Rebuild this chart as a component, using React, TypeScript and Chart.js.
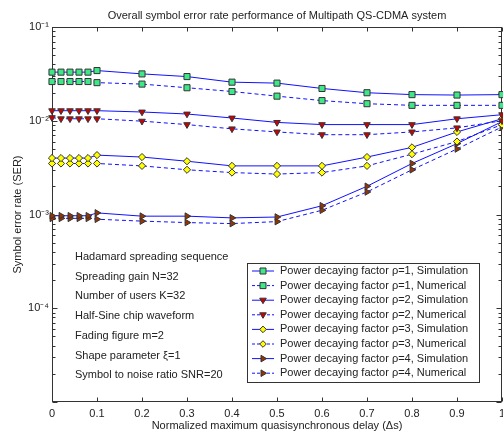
import React, { useEffect, useRef } from "react";
import { Chart, registerables } from "chart.js";

Chart.register(...registerables);

const titleText = "Overall symbol error rate performance of Multipath QS-CDMA system";
const xTitle = "Normalized maximum quasisynchronous delay (\u0394s)";
const yTitle = "Symbol error rate (SER)";

const xs = [0, 0.02, 0.04, 0.06, 0.08, 0.1, 0.2, 0.3, 0.4, 0.5, 0.6, 0.7, 0.8, 0.9, 1.0];

const sim1 = [0.033, 0.033, 0.033, 0.033, 0.033, 0.0343, 0.0316, 0.0296, 0.0258, 0.0252, 0.0221, 0.0199, 0.019, 0.0188, 0.019];
const num1 = [0.0262, 0.0262, 0.0262, 0.0262, 0.0262, 0.0255, 0.0246, 0.0225, 0.0205, 0.0183, 0.0164, 0.0152, 0.0146, 0.0146, 0.0146];
const sim2 = [0.0128, 0.0128, 0.0128, 0.0128, 0.0128, 0.0128, 0.0124, 0.0118, 0.0107, 0.0096, 0.0091, 0.0091, 0.0091, 0.0105, 0.0116];
const num2 = [0.0108, 0.0105, 0.0105, 0.0105, 0.0105, 0.0105, 0.0099, 0.0091, 0.0082, 0.0076, 0.0071, 0.0071, 0.0076, 0.0084, 0.01];
const sim3 = [0.004, 0.004, 0.004, 0.004, 0.004, 0.0043, 0.0041, 0.0037, 0.0033, 0.0033, 0.0033, 0.0041, 0.0052, 0.0076, 0.0105];
const num3 = [0.0035, 0.0035, 0.0035, 0.0035, 0.0035, 0.0035, 0.0033, 0.003, 0.0028, 0.0027, 0.0028, 0.0033, 0.0044, 0.006, 0.0091];
const sim4 = [0.00097, 0.00097, 0.00097, 0.00097, 0.00097, 0.00104, 0.00096, 0.00096, 0.00092, 0.00094, 0.00124, 0.002, 0.0035, 0.0057, 0.0098];
const num4 = [0.00091, 0.00091, 0.00091, 0.00091, 0.00091, 0.00089, 0.00085, 0.00082, 0.0008, 0.00084, 0.00111, 0.00174, 0.003, 0.005, 0.0086];

const seriesLabels = [
  "Power decaying factor \u03c1=1, Simulation",
  "Power decaying factor \u03c1=1, Numerical",
  "Power decaying factor \u03c1=2, Simulation",
  "Power decaying factor \u03c1=2, Numerical",
  "Power decaying factor \u03c1=3, Simulation",
  "Power decaying factor \u03c1=3, Numerical",
  "Power decaying factor \u03c1=4, Simulation",
  "Power decaying factor \u03c1=4, Numerical",
];

const xTickLabels = ["0", "0.1", "0.2", "0.3", "0.4", "0.5", "0.6", "0.7", "0.8", "0.9", "1"];
const yDecades = [1e-4, 1e-3, 1e-2, 1e-1];
const yTickLabels = ["10\u207b\u2074", "10\u207b\u00b3", "10\u207b\u00b2", "10\u207b\u00b9"];

const infoLines = [
  "Hadamard spreading sequence",
  "Spreading gain N=32",
  "Number of users K=32",
  "Half-Sine chip waveform",
  "Fading figure m=2",
  "Shape parameter \u03be=1",
  "Symbol to noise ratio SNR=20",
];

const FONT = "'Liberation Sans', Arial, sans-serif";
const TEXT = "#222";

type Marker = "square" | "tridown" | "diamond" | "triright";

function drawMarker(ctx: CanvasRenderingContext2D, m: Marker, x: number, y: number, fill: string) {
  ctx.beginPath();
  if (m === "square") {
    ctx.rect(x - 3, y - 3, 6, 6);
  } else if (m === "tridown") {
    ctx.moveTo(x - 3.3, y - 2);
    ctx.lineTo(x + 3.3, y - 2);
    ctx.lineTo(x, y + 3.5);
    ctx.closePath();
  } else if (m === "diamond") {
    ctx.moveTo(x, y - 3.3);
    ctx.lineTo(x + 3.3, y);
    ctx.lineTo(x, y + 3.3);
    ctx.lineTo(x - 3.3, y);
    ctx.closePath();
  } else {
    ctx.moveTo(x - 2, y - 3.3);
    ctx.lineTo(x + 3.5, y);
    ctx.lineTo(x - 2, y + 3.3);
    ctx.closePath();
  }
  ctx.fillStyle = fill;
  ctx.fill();
  ctx.strokeStyle = "#333";
  ctx.lineWidth = 1;
  ctx.stroke();
}

export default function App() {
  const ref = useRef<HTMLCanvasElement>(null);

  useEffect(() => {
    const canvas = ref.current;
    if (!canvas) return;

    const specs = [
      { data: sim1, style: "rect", rot: 0, r: 4.3, fill: "#3ee888", dash: [] as number[], marker: "square" as Marker },
      { data: num1, style: "rect", rot: 0, r: 4.3, fill: "#3ee888", dash: [4, 3], marker: "square" as Marker },
      { data: sim2, style: "triangle", rot: 180, r: 3.8, fill: "#d00000", dash: [] as number[], marker: "tridown" as Marker },
      { data: num2, style: "triangle", rot: 180, r: 3.8, fill: "#d00000", dash: [4, 3], marker: "tridown" as Marker },
      { data: sim3, style: "rectRot", rot: 0, r: 3.6, fill: "#ffff00", dash: [] as number[], marker: "diamond" as Marker },
      { data: num3, style: "rectRot", rot: 0, r: 3.6, fill: "#ffff00", dash: [4, 3], marker: "diamond" as Marker },
      { data: sim4, style: "triangle", rot: 90, r: 3.8, fill: "#993300", dash: [] as number[], marker: "triright" as Marker },
      { data: num4, style: "triangle", rot: 90, r: 3.8, fill: "#993300", dash: [4, 3], marker: "triright" as Marker },
    ];

    const datasets = specs.map((s, i) => ({
      label: seriesLabels[i],
      data: xs.map((x, j) => ({ x, y: s.data[j] })),
      borderColor: "#1010ff",
      borderWidth: 1,
      borderDash: s.dash,
      pointStyle: s.style,
      pointRotation: s.rot,
      pointRadius: s.r,
      pointBackgroundColor: s.fill,
      pointBorderColor: "#333",
      pointBorderWidth: 1,
      tension: 0,
      fill: false,
      clip: false as any,
    }));

    const framePlugin = {
      id: "frame",
      beforeDatasetsDraw(chart: any) {
        const { ctx, chartArea: a, scales } = chart;
        const sx = scales.x;
        const sy = scales.y;
        const L = Math.round(a.left) + 0.5;
        const R = Math.round(a.right) - 0.5;
        const T = Math.round(a.top) + 0.5;
        const B = Math.round(a.bottom) - 0.5;
        ctx.save();
        // title centred over the plot area
        ctx.font = `11px ${FONT}`;
        ctx.fillStyle = TEXT;
        ctx.textAlign = "center";
        ctx.textBaseline = "middle";
        ctx.fillText(titleText, (a.left + a.right) / 2, 15.5);

        ctx.strokeStyle = "#333";
        ctx.lineWidth = 1;
        ctx.strokeRect(L, T, R - L, B - T);
        ctx.beginPath();
        for (let i = 0; i <= 10; i++) {
          const px = Math.round(sx.getPixelForValue(i / 10)) + 0.5;
          ctx.moveTo(px, B);
          ctx.lineTo(px, B - 4);
          ctx.moveTo(px, T);
          ctx.lineTo(px, T + 4);
        }
        for (let e = -5; e < -1 + 0.5; e++) {
          for (let k = 1; k <= 9; k++) {
            const v = k * Math.pow(10, e);
            if (v > 0.1 + 1e-12) break;
            const py = Math.round(sy.getPixelForValue(v)) + 0.5;
            const len = k === 1 ? 5 : 3;
            ctx.moveTo(L, py);
            ctx.lineTo(L + len, py);
            ctx.moveTo(R, py);
            ctx.lineTo(R - len, py);
          }
        }
        ctx.stroke();
        ctx.restore();
      },
      afterDatasetsDraw(chart: any) {
        const { ctx } = chart;
        ctx.save();
        ctx.font = `11px ${FONT}`;
        ctx.fillStyle = TEXT;
        ctx.textAlign = "left";
        ctx.textBaseline = "middle";
        infoLines.forEach((t, i) => {
          ctx.fillText(t, 75, 257 + i * 19.7);
        });
        const bl = 247.5, bt = 263.5, bw = 232, bh = 119;
        ctx.fillStyle = "#fff";
        ctx.fillRect(bl, bt, bw, bh);
        ctx.strokeStyle = "#333";
        ctx.lineWidth = 1;
        ctx.strokeRect(bl, bt, bw, bh);
        specs.forEach((s, i) => {
          const y = 271 + i * 14.6;
          ctx.save();
          ctx.strokeStyle = "#1010ff";
          ctx.lineWidth = 1;
          ctx.setLineDash(s.dash.length ? [3, 2] : []);
          ctx.beginPath();
          ctx.moveTo(252, y);
          ctx.lineTo(274, y);
          ctx.stroke();
          ctx.restore();
          drawMarker(ctx, s.marker, 263, y, s.fill);
          ctx.fillStyle = TEXT;
          ctx.font = `11px ${FONT}`;
          ctx.textAlign = "left";
          ctx.textBaseline = "middle";
          ctx.fillText(seriesLabels[i], 280, y);
        });
        ctx.restore();
      },
    };

    const chart = new Chart(canvas, {
      type: "line",
      data: { datasets: datasets as any },
      options: {
        animation: false,
        responsive: false,
        devicePixelRatio: 1,
        layout: { autoPadding: false, padding: { left: 0, right: 1, top: 27, bottom: 0 } } as any,
        plugins: {
          legend: { display: false },
          tooltip: { enabled: false },
          title: { display: false },
        },
        scales: {
          x: {
            type: "linear",
            min: 0,
            max: 1,
            grid: { display: false, drawTicks: false },
            border: { display: false },
            ticks: {
              stepSize: 0.1,
              autoSkip: false,
              maxRotation: 0,
              padding: 5,
              color: TEXT,
              font: { size: 11, family: FONT },
              callback: (_v: any, i: number) => xTickLabels[i],
            },
            title: {
              display: true,
              text: xTitle,
              color: TEXT,
              font: { size: 11, family: FONT },
              padding: { top: 0, bottom: 3 },
            },
            afterFit: (s: any) => {
              s.height = 34;
              s.paddingLeft = 0;
              s.paddingRight = 0;
            },
          },
          y: {
            type: "logarithmic",
            min: 1e-5,
            max: 1e-1,
            grid: { display: false, drawTicks: false },
            border: { display: false },
            ticks: {
              autoSkip: false,
              padding: 3,
              color: TEXT,
              font: { size: 11, family: FONT },
              callback: (v: any) => {
                const idx = yDecades.findIndex((d) => Math.abs(d - v) / d < 1e-6);
                return idx >= 0 ? yTickLabels[idx] : "";
              },
            },
            title: {
              display: true,
              text: yTitle,
              color: TEXT,
              font: { size: 11, family: FONT },
              padding: { top: 11, bottom: 0 },
            },
            afterFit: (s: any) => {
              s.width = 52;
              s.paddingTop = 0;
              s.paddingBottom = 0;
            },
          },
        },
      } as any,
      plugins: [framePlugin],
    });

    return () => chart.destroy();
  }, []);

  return (
    <div style={{ position: "fixed", left: 0, top: 0, width: 503, height: 436, background: "#fff" }}>
      <canvas ref={ref} width={503} height={436} style={{ display: "block" }} />
    </div>
  );
}
